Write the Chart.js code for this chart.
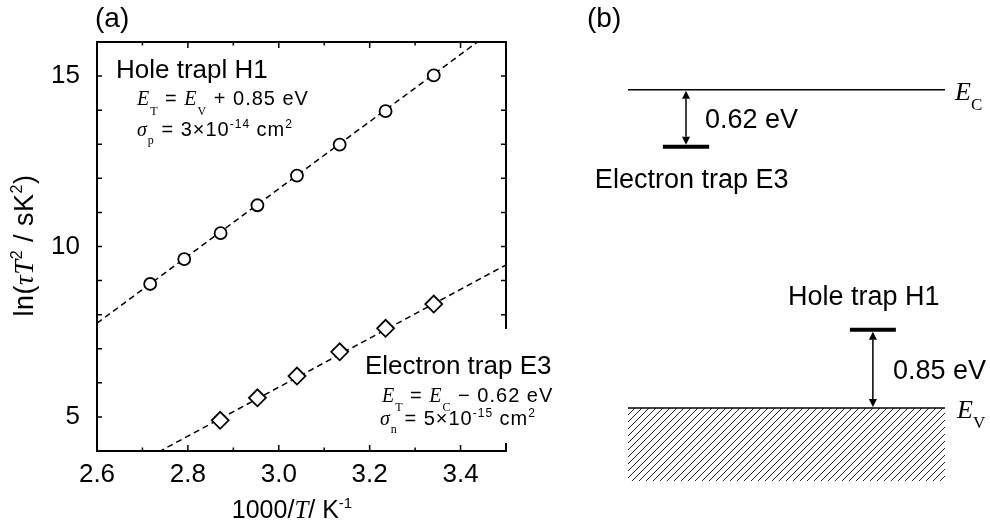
<!DOCTYPE html>
<html>
<head>
<meta charset="utf-8">
<script src="https://cdn.jsdelivr.net/npm/chart.js@4.4.1/dist/chart.umd.min.js"></script>
<style>
  html, body { margin: 0; padding: 0; background: #fff; }
  #wrap { position: relative; width: 990px; height: 524px; }
  #wrap canvas { position: absolute; top: 0; }
  #arrhenius { left: 0; width: 560px; height: 524px; }
  #bands { left: 560px; width: 430px; height: 524px; }
</style>
</head>
<body>
<div id="wrap">
  <canvas id="arrhenius" width="560" height="524"></canvas>
  <canvas id="bands" width="430" height="524"></canvas>
</div>
<script>
// Arrhenius data: 1000/T (K^-1) vs ln(tau*T^2)
const holeX = [2.717, 2.792, 2.872, 2.953, 3.040, 3.134, 3.235, 3.341];
const holeY = [8.90, 9.63, 10.39, 11.21, 12.08, 12.99, 13.97, 15.02];
const elecX = [2.871, 2.953, 3.040, 3.134, 3.235, 3.341];
const elecY = [4.90, 5.56, 6.20, 6.91, 7.60, 8.31];

// fitted lines, end points
const holeFitX = [2.6, 3.5];
const holeFitY = [7.75, 16.62];
const elecFitX = [2.6, 3.5];
const elecFitY = [3.0, 9.46];

const xTicks = [2.6, 2.8, 3.0, 3.2, 3.4];
const yTicks = [5, 10, 15];

// trap parameters: [E3, H1]
const trapLabelsA = ['Electron trap E3', 'Hole trapl H1'];
const trapNames = ['Electron trap E3', 'Hole trap H1'];
const trapDepths = [0.62, 0.85];     // E3 below E_C, H1 above E_V (eV)
const sigmaMant = [5, 3];
const sigmaExp = [-15, -14];
const bandGap = 3.46;                // E_C - E_V (eV)

const sans = '"Liberation Sans", Arial, sans-serif';
const serif = '"Liberation Serif", "Times New Roman", serif';
const font = (size, family, style) => (style ? style + ' ' : '') + size + 'px ' + family;

Chart.defaults.font.family = sans;
Chart.defaults.color = '#000';

// draw [text, font, dy] pieces one after another
function drawRuns(ctx, runs, x, y, align) {
  let total = 0;
  for (const [t, f] of runs) { ctx.font = f; total += ctx.measureText(t).width; }
  let cx = align === 'center' ? x - total / 2 : x;
  for (const [t, f, dy] of runs) {
    ctx.font = f;
    ctx.fillText(t, cx, y + (dy || 0));
    cx += ctx.measureText(t).width;
  }
}

// box frame with inward ticks on all four sides
const framePlugin = {
  id: 'frame',
  afterDatasetsDraw(chart) {
    const { ctx, chartArea: a, scales: { x, y } } = chart;
    ctx.save();
    ctx.strokeStyle = '#000';
    ctx.lineWidth = 2;
    ctx.strokeRect(a.left, a.top, a.right - a.left, a.bottom - a.top);
    ctx.lineWidth = 1.5;
    ctx.beginPath();
    x.ticks.forEach(t => {
      const px = x.getPixelForValue(t.value);
      const len = t.label ? 6 : 3.5;
      ctx.moveTo(px, a.bottom); ctx.lineTo(px, a.bottom - len);
      ctx.moveTo(px, a.top); ctx.lineTo(px, a.top + len);
    });
    y.ticks.forEach(t => {
      const py = y.getPixelForValue(t.value);
      ctx.moveTo(a.left, py); ctx.lineTo(a.left + 5, py);
      ctx.moveTo(a.right, py); ctx.lineTo(a.right - 5, py);
    });
    ctx.stroke();
    ctx.restore();
  }
};

const arrheniusText = {
  id: 'arrheniusText',
  afterDraw(chart) {
    const { ctx, chartArea: a } = chart;
    const it = font(20, serif, 'italic');
    const rm = font(20, sans);
    const sub = font(12, serif);
    const sup = font(12, sans);
    ctx.save();
    ctx.fillStyle = '#000';
    ctx.textAlign = 'left';
    ctx.textBaseline = 'alphabetic';

    ctx.font = font(28, sans);
    ctx.fillText('(a)', 95, 27);

    // hole trap
    ctx.font = font(26, sans);
    ctx.fillText(trapLabelsA[1], a.left + 19, 78);
    ctx.letterSpacing = '1px';
    drawRuns(ctx, [['E', it], ['T', sub, 10], [' = ', rm], ['E', it], ['V', sub, 10],
      [' + ' + trapDepths[1].toFixed(2) + ' eV', rm]], a.left + 40, 105);
    drawRuns(ctx, [['σ', it], ['p', sub, 8], [' = ' + sigmaMant[1] + '×10', rm],
      [String(sigmaExp[1]), sup, -8], [' cm', rm], ['2', sup, -8]], a.left + 40, 136);
    ctx.letterSpacing = '0px';

    // electron trap, on a white box over the right frame
    ctx.fillStyle = '#fff';
    ctx.fillRect(400, 329, 160, 114);
    ctx.fillStyle = '#000';
    ctx.font = font(26, sans);
    ctx.fillText(trapLabelsA[0], 365, 374);
    ctx.letterSpacing = '1px';
    drawRuns(ctx, [['E', it], ['T', sub, 9], [' = ', rm], ['E', it], ['C', sub, 9],
      [' − ' + trapDepths[0].toFixed(2) + ' eV', rm]], 382, 401.5);
    drawRuns(ctx, [['σ', it], ['n', sub, 8], [' = ' + sigmaMant[0] + '×10', rm],
      [String(sigmaExp[0]), sup, -8], [' cm', rm], ['2', sup, -8]], 380, 425);
    ctx.letterSpacing = '0px';

    // axis titles
    drawRuns(ctx, [['1000/', font(25, sans)], ['T', font(25, serif, 'italic')],
      ['/ K', font(25, sans)], ['-1', font(15, sans), -10]], 292, 518, 'center');

    ctx.translate(33, 245.5);
    ctx.rotate(-Math.PI / 2);
    ctx.letterSpacing = '0.5px';
    drawRuns(ctx, [['ln(', font(27, sans)], ['τT', font(27, serif, 'italic')],
      ['2', font(16, sans), -11], [' / sK', font(27, sans)], ['2', font(16, sans), -11],
      [')', font(27, sans)]], 0, 0, 'center');
    ctx.restore();
  }
};

const pts = (xs, ys) => xs.map((x, i) => ({ x, y: ys[i] }));

new Chart(document.getElementById('arrhenius'), {
  type: 'scatter',
  data: {
    datasets: [
      { data: pts(holeX, holeY), pointStyle: 'circle', pointRadius: 6, borderWidth: 1.8,
        borderColor: '#000', backgroundColor: '#fff' },
      { data: pts(elecX, elecY), pointStyle: 'rectRot', pointRadius: 8.5, borderWidth: 1.8,
        borderColor: '#000', backgroundColor: '#fff' },
      { data: pts(holeFitX, holeFitY), showLine: true, pointRadius: 0, borderColor: '#000',
        borderWidth: 1.5, borderDash: [6, 4] },
      { data: pts(elecFitX, elecFitY), showLine: true, pointRadius: 0, borderColor: '#000',
        borderWidth: 1.5, borderDash: [6, 4] }
    ]
  },
  options: {
    responsive: false,
    animation: false,
    events: [],
    layout: { padding: { top: 42, right: 54, bottom: 0, left: 0 } },
    plugins: { legend: { display: false }, tooltip: { enabled: false } },
    scales: {
      x: {
        type: 'linear', min: 2.6, max: 3.5,
        afterFit: s => { s.height = 73; },
        grid: { display: false, drawTicks: false },
        border: { display: false },
        ticks: {
          stepSize: 0.1, autoSkip: false, maxRotation: 0, padding: 8,
          font: { size: 26 },
          callback: v => xTicks.some(t => Math.abs(t - v) < 1e-6) ? v.toFixed(1) : ''
        }
      },
      y: {
        min: 4, max: 16,
        afterFit: s => { s.width = 97; },
        grid: { display: false, drawTicks: false },
        border: { display: false },
        ticks: {
          stepSize: 1, autoSkip: false, padding: 17,
          font: { size: 26 },
          callback: v => yTicks.some(t => Math.abs(t - v) < 1e-6) ? String(Math.round(v)) : ''
        }
      }
    }
  },
  plugins: [framePlugin, arrheniusText]
});

// ---- band diagram ----
const hatch = (() => {
  const c = document.createElement('canvas');
  c.width = 7; c.height = 7;
  const g = c.getContext('2d');
  g.strokeStyle = '#222';
  g.lineWidth = 1;
  g.beginPath();
  g.moveTo(-1, 8); g.lineTo(8, -1);
  g.moveTo(-1, 1); g.lineTo(1, -1);
  g.moveTo(6, 8); g.lineTo(8, 6);
  g.stroke();
  return g.createPattern(c, 'repeat');
})();

// horizontal spans of the two trap levels in band-diagram units
const trapSpan = [[0.110, 0.256], [0.700, 0.845]];
const trapLevels = [bandGap - trapDepths[0], trapDepths[1]];

function vArrow(ctx, x, yTop, yBot) {
  const h = 8, w = 4;
  ctx.beginPath();
  ctx.moveTo(x, yTop + h); ctx.lineTo(x, yBot - h);
  ctx.stroke();
  ctx.beginPath();
  ctx.moveTo(x, yTop); ctx.lineTo(x - w, yTop + h); ctx.lineTo(x + w, yTop + h); ctx.closePath();
  ctx.moveTo(x, yBot); ctx.lineTo(x - w, yBot - h); ctx.lineTo(x + w, yBot - h); ctx.closePath();
  ctx.fill();
}

const bandText = {
  id: 'bandText',
  afterDraw(chart) {
    const { ctx, scales: { x, y } } = chart;
    const yC = y.getPixelForValue(bandGap);
    const yV = y.getPixelForValue(0);
    const yE3 = y.getPixelForValue(trapLevels[0]);
    const yH1 = y.getPixelForValue(trapLevels[1]);
    const xE3 = x.getPixelForValue((trapSpan[0][0] + trapSpan[0][1]) / 2);
    const xH1 = x.getPixelForValue((trapSpan[1][0] + trapSpan[1][1]) / 2);
    ctx.save();
    ctx.fillStyle = '#000';
    ctx.strokeStyle = '#000';
    ctx.lineWidth = 1.5;
    ctx.textAlign = 'left';
    ctx.textBaseline = 'alphabetic';

    vArrow(ctx, xE3, yC + 1, yE3 - 2);
    vArrow(ctx, xH1, yH1 + 2, yV - 1);

    ctx.font = font(28, sans);
    ctx.fillText('(b)', 27, 27);

    ctx.font = font(27, sans);
    ctx.fillText(trapDepths[0].toFixed(2) + ' eV', xE3 + 19, (yC + yE3) / 2 + 9.5);
    ctx.fillText(trapDepths[1].toFixed(2) + ' eV', xH1 + 20, (yH1 + yV) / 2 + 10);
    ctx.fillText(trapNames[0], x.getPixelForValue(trapSpan[0][0]) - 68, yE3 + 41);
    ctx.fillText(trapNames[1], x.getPixelForValue(trapSpan[1][0]) - 62, yH1 - 25);

    const right = chart.chartArea.right;
    drawRuns(ctx, [['E', font(26, serif, 'italic')], ['C', font(17, serif), 10]], right + 10, yC + 10);
    drawRuns(ctx, [['E', font(26, serif, 'italic')], ['V', font(17, serif), 10]], right + 12, yV + 10);
    ctx.restore();
  }
};

const level = (x0, x1, e, w) => ({
  data: [{ x: x0, y: e }, { x: x1, y: e }], showLine: true, pointRadius: 0,
  borderColor: '#000', borderWidth: w, clip: false
});

new Chart(document.getElementById('bands'), {
  type: 'scatter',
  data: {
    datasets: [
      level(0, 1, bandGap, 1.5),
      Object.assign(level(0, 1, 0, 1.5), { fill: 'start', backgroundColor: hatch }),
      level(trapSpan[0][0], trapSpan[0][1], trapLevels[0], 4),
      level(trapSpan[1][0], trapSpan[1][1], trapLevels[1], 4)
    ]
  },
  options: {
    responsive: false,
    animation: false,
    events: [],
    layout: { padding: { left: 68, right: 45, top: 77, bottom: 42.5 } },
    plugins: { legend: { display: false }, tooltip: { enabled: false } },
    scales: {
      x: { type: 'linear', min: 0, max: 1, display: false },
      y: { min: -0.8, max: 3.6, display: false }
    }
  },
  plugins: [bandText]
});
</script>
</body>
</html>
